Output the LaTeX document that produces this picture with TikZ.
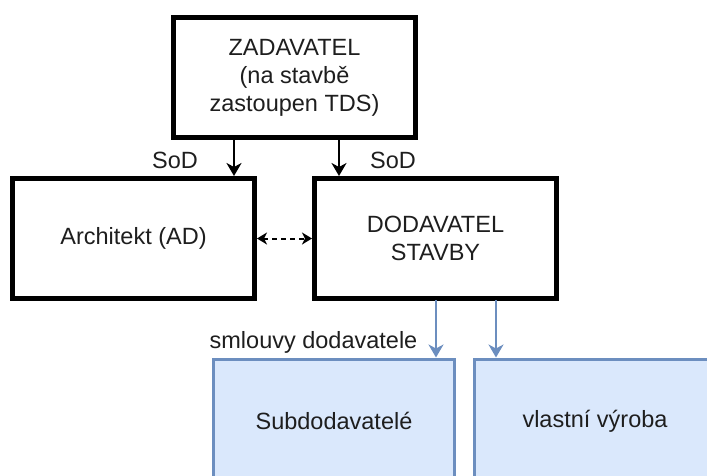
\documentclass[tikz,border=0pt]{standalone}
\usepackage{fontspec}
\setmainfont{Liberation Sans}
\usetikzlibrary{arrows.meta}
\definecolor{bluefill}{HTML}{DAE8FC}
\definecolor{blueline}{HTML}{6C8EBF}
\definecolor{ink}{HTML}{1E1E1E}
\begin{document}
\begin{tikzpicture}[x=1pt,y=-1pt,
  every node/.style={font=\fontsize{23.5}{28}\selectfont, text=ink},
  blackbox/.style={draw=black, line width=5pt, fill=white, minimum width=242pt,
    minimum height=120pt, align=center, inner sep=0pt},
  bluebox/.style={draw=blueline, fill=bluefill, line width=3pt, minimum width=241pt,
    minimum height=124pt, align=center, inner sep=0pt},
  link/.style={line width=2pt, -{Stealth[length=13pt,width=15pt,inset=4pt]}},
  bluelink/.style={draw=blueline, line width=2pt, -{Stealth[length=13pt,width=15pt,inset=4pt]}},
  duallink/.style={line width=2pt, dash pattern=on 5pt off 4pt,
    {Stealth[length=10pt,width=12pt,inset=3pt]}-{Stealth[length=10pt,width=12pt,inset=3pt]}},
  lbl/.style={inner sep=0pt}
]
\useasboundingbox (0,0) rectangle (707,475);
\clip (0,0) rectangle (707,475);

% boxes
\node[blackbox] (zad)  at (294.5,77.5) {ZADAVATEL\\(na stavbě\\zastoupen TDS)};
\node[blackbox] (arch) at (133.5,238.5) {Architekt (AD)};
\node[blackbox] (dod)  at (435.5,238.5) {DODAVATEL\\STAVBY};
\node[bluebox]  (sub)  at (334,421) {Subdodavatelé};
\node[bluebox]  (vv)   at (595,421) {vlastní výroba};

% contract links from the client
\coordinate (z1) at (234,140);
\coordinate (z2) at (339,140);
\draw[link] (z1) -- (z1 |- arch.north);
\draw[link] (z2) -- (z2 |- dod.north);
\node[lbl] (sod1) at (175,160) {SoD};
\node[lbl] (sod2) at (393,160) {SoD};

% architect <-> contractor
\draw[duallink] (arch.east) -- (dod.west);

% contractor to subcontractors and own production
\coordinate (d1) at (436,300);
\coordinate (d2) at (496,300);
\draw[bluelink] (d1) -- (d1 |- sub.north);
\draw[bluelink] (d2) -- (d2 |- vv.north);
\node[lbl] (sml) at (313.5,342) {smlouvy dodavatele};
\end{tikzpicture}
\end{document}
